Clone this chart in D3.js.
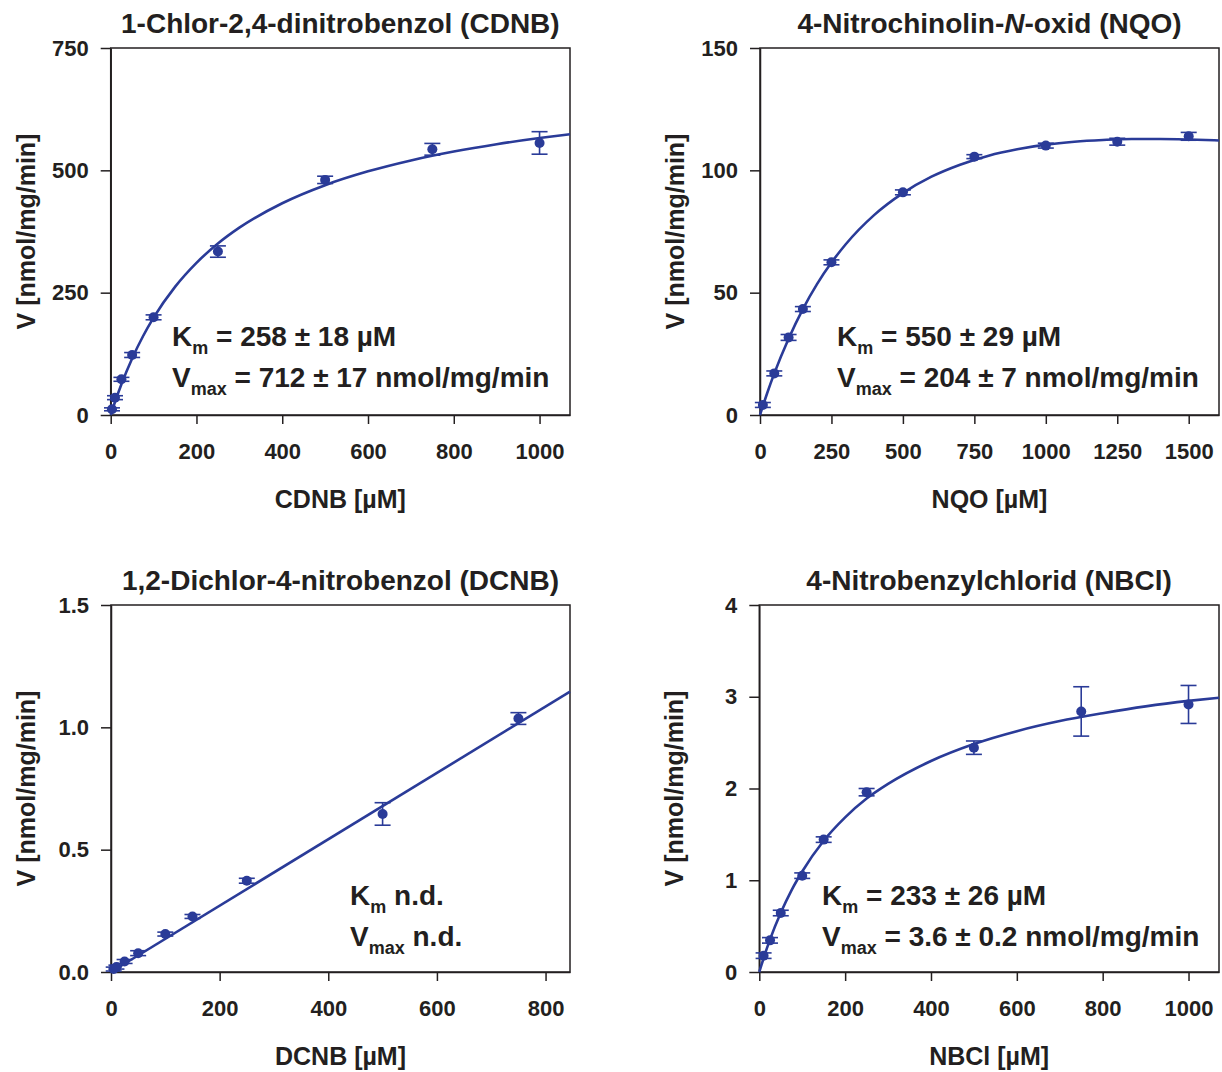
<!DOCTYPE html>
<html><head><meta charset="utf-8">
<script src="https://cdn.jsdelivr.net/npm/d3@7"></script>
<style>
html,body{margin:0;padding:0;background:#fff;}
text{font-family:"Liberation Sans",Arial,Helvetica,sans-serif;font-weight:bold;fill:#231f20;}
</style></head>
<body>
<svg id="chart" width="1222" height="1072"></svg>
<script>
// ---------- data ----------
const cdnbConc = [3, 10, 25, 50, 100, 250, 500, 750, 1000];
const cdnbRate = [11.6, 35.4, 72.9, 122.6, 199.6, 334, 480.5, 543, 556];
const cdnbErr  = [3, 4, 4, 5, 5, 11.6, 7.5, 12, 23];
const cdnbFitX = [0, 10, 25, 50, 75, 100, 150, 200, 250, 300, 400, 500, 600, 700, 800, 900, 1000, 1071];
const cdnbFitY = [0, 26.6, 62.9, 115.6, 160.4, 198.9, 261.8, 310.9, 350.4, 382.8, 432.8, 469.7, 497.9, 520.3, 538.4, 553.4, 566.0, 573.8];

const nqoConc = [10, 50, 100, 150, 250, 500, 750, 1000, 1250, 1500];
const nqoRate = [4.1, 17.0, 31.7, 43.3, 62.4, 91.0, 105.6, 110.1, 111.7, 113.9];
const nqoErr  = [1, 1, 1.2, 1, 1, 1, 0.8, 1, 1.4, 1.6];
const nqoFitX = [0, 25, 50, 100, 150, 200, 250, 300, 400, 500, 600, 700, 800, 900, 1000, 1100, 1200, 1300, 1400, 1500, 1606];
const nqoFitY = [0, 8.9, 17.0, 31.2, 43.3, 53.6, 62.3, 69.8, 81.8, 90.7, 97.4, 102.3, 106.0, 108.6, 110.5, 111.7, 112.4, 112.8, 112.8, 112.6, 112.2];

const dcnbConc = [5, 10, 25, 50, 100, 150, 250, 500, 750];
const dcnbRate = [0.012, 0.02, 0.043, 0.077, 0.155, 0.227, 0.373, 0.646, 1.036];
const dcnbErr  = [0.008, 0.008, 0.008, 0.01, 0.008, 0.008, 0.01, 0.046, 0.024];
const dcnbFitX = [0, 845];
const dcnbFitY = [0, 1.146];

const nbclConc = [10, 25, 50, 100, 150, 250, 500, 750, 1000];
const nbclRate = [0.178, 0.345, 0.643, 1.05, 1.443, 1.96, 2.445, 2.84, 2.916];
const nbclErr  = [0.03, 0.03, 0.03, 0.03, 0.03, 0.04, 0.073, 0.269, 0.207];
const nbclFitX = [0, 10, 25, 50, 75, 100, 150, 200, 250, 300, 400, 500, 600, 700, 800, 900, 1000, 1071];
const nbclFitY = [0, 0.15, 0.355, 0.645, 0.89, 1.095, 1.43, 1.685, 1.89, 2.05, 2.30, 2.485, 2.625, 2.735, 2.82, 2.895, 2.955, 2.99];

const cdnbXTicks = [0, 200, 400, 600, 800, 1000];
const cdnbYTicks = [0, 250, 500, 750];
const nqoXTicks = [0, 250, 500, 750, 1000, 1250, 1500];
const nqoYTicks = [0, 50, 100, 150];
const dcnbXTicks = [0, 200, 400, 600, 800];
const dcnbYTicks = [0, 0.5, 1.0, 1.5];
const dcnbYTickLabels = ["0.0", "0.5", "1.0", "1.5"];
const nbclXTicks = [0, 200, 400, 600, 800, 1000];
const nbclYTicks = [0, 1, 2, 3, 4];

const titles = [
  [["1-Chlor-2,4-dinitrobenzol (CDNB)", false]],
  [["4-Nitrochinolin-", false], ["N", true], ["-oxid (NQO)", false]],
  [["1,2-Dichlor-4-nitrobenzol (DCNB)", false]],
  [["4-Nitrobenzylchlorid (NBCl)", false]]
];
const xLabels = ["CDNB [µM]", "NQO [µM]", "DCNB [µM]", "NBCl [µM]"];
const yLabel = "V [nmol/mg/min]";
const kmTexts = ["= 258 ± 18 µM", "= 550 ± 29 µM", "n.d.", "= 233 ± 26 µM"];
const vmaxTexts = ["= 712 ± 17 nmol/mg/min", "= 204 ± 7 nmol/mg/min", "n.d.", "= 3.6 ± 0.2 nmol/mg/min"];

// ---------- layout ----------
const BLUE = "#2a3b98";
const INK = "#231f20";
const panels = [
  {left:110.7, right:570, top:48, bottom:415, xMax:1071, yMax:750, conc:cdnbConc, rate:cdnbRate, err:cdnbErr, fx:cdnbFitX, fy:cdnbFitY, xt:cdnbXTicks, yt:cdnbYTicks, ytl:null, annX:172, annY:346},
  {left:760, right:1219, top:48, bottom:415, xMax:1606, yMax:150, conc:nqoConc, rate:nqoRate, err:nqoErr, fx:nqoFitX, fy:nqoFitY, xt:nqoXTicks, yt:nqoYTicks, ytl:null, annX:837, annY:346},
  {left:111, right:570, top:605, bottom:972, xMax:845, yMax:1.5, conc:dcnbConc, rate:dcnbRate, err:dcnbErr, fx:dcnbFitX, fy:dcnbFitY, xt:dcnbXTicks, yt:dcnbYTicks, ytl:dcnbYTickLabels, annX:350, annY:905},
  {left:759.3, right:1219, top:605, bottom:972, xMax:1071, yMax:4, conc:nbclConc, rate:nbclRate, err:nbclErr, fx:nbclFitX, fy:nbclFitY, xt:nbclXTicks, yt:nbclYTicks, ytl:null, annX:822, annY:905}
];

const svg = d3.select("#chart");

panels.forEach((p, i) => {
  const x = d3.scaleLinear().domain([0, p.xMax]).range([p.left, p.right]);
  const y = d3.scaleLinear().domain([0, p.yMax]).range([p.bottom, p.top]);
  const g = svg.append("g");

  // frame
  g.append("rect").attr("x", p.left).attr("y", p.top)
    .attr("width", p.right - p.left).attr("height", p.bottom - p.top)
    .attr("fill", "none").attr("stroke", INK).attr("stroke-width", 1.5);

  // axes
  const xa = d3.axisBottom(x).tickValues(p.xt).tickSize(9).tickSizeOuter(0).tickPadding(19)
    .tickFormat(d3.format("d"));
  const gx = g.append("g").attr("transform", `translate(0,${p.bottom})`).call(xa);
  const ya = d3.axisLeft(y).tickValues(p.yt).tickSize(10).tickSizeOuter(0).tickPadding(12)
    .tickFormat((d, k) => p.ytl ? p.ytl[k] : d3.format("d")(d));
  const gy = g.append("g").attr("transform", `translate(${p.left},0)`).call(ya);
  [gx, gy].forEach(a => {
    a.select(".domain").attr("stroke", INK).attr("stroke-width", 1.5);
    a.selectAll(".tick line").attr("stroke", INK).attr("stroke-width", 1.5);
    a.selectAll(".tick text").attr("font-size", 22).attr("fill", INK)
      .style("font-family", '"Liberation Sans",Arial,sans-serif').style("font-weight", "bold");
  });

  // title
  const t = g.append("text").attr("x", (p.left + p.right) / 2).attr("y", p.top - 15)
    .attr("text-anchor", "middle").attr("font-size", 28);
  titles[i].forEach(([s, it]) => t.append("tspan").text(s).attr("font-style", it ? "italic" : "normal"));

  // axis labels
  g.append("text").attr("x", (p.left + p.right) / 2).attr("y", p.bottom + 93)
    .attr("text-anchor", "middle").attr("font-size", 25).text(xLabels[i]);
  g.append("text").attr("transform", `translate(${p.left - 76},${(p.top + p.bottom) / 2}) rotate(-90)`)
    .attr("text-anchor", "middle").attr("font-size", 25).text(yLabel);

  // fit curve
  const fit = p.fx.map((v, k) => [v, p.fy[k]]);
  g.append("path").datum(fit)
    .attr("d", d3.line().x(d => x(d[0])).y(d => y(d[1])).curve(d3.curveMonotoneX))
    .attr("fill", "none").attr("stroke", BLUE).attr("stroke-width", 2.6);

  // error bars + points
  const pts = p.conc.map((c, k) => ({c, v: p.rate[k], e: p.err[k]}));
  const eb = g.append("g").attr("stroke", BLUE).attr("stroke-width", 1.6);
  pts.forEach(d => {
    const cx = x(d.c), y1 = y(d.v + d.e), y2 = y(d.v - d.e);
    eb.append("line").attr("x1", cx).attr("x2", cx).attr("y1", y1).attr("y2", y2);
    eb.append("line").attr("x1", cx - 8).attr("x2", cx + 8).attr("y1", y1).attr("y2", y1);
    eb.append("line").attr("x1", cx - 8).attr("x2", cx + 8).attr("y1", y2).attr("y2", y2);
  });
  g.selectAll("circle.pt").data(pts).enter().append("circle").attr("class", "pt")
    .attr("cx", d => x(d.c)).attr("cy", d => y(d.v)).attr("r", 5).attr("fill", BLUE);

  // annotation
  const a1 = g.append("text").attr("x", p.annX).attr("y", p.annY).attr("font-size", 28);
  a1.append("tspan").text("K");
  a1.append("tspan").attr("font-size", 18).attr("dy", 8).text("m");
  a1.append("tspan").attr("dy", -8).text(" " + kmTexts[i]);
  const a2 = g.append("text").attr("x", p.annX).attr("y", p.annY + 41).attr("font-size", 28);
  a2.append("tspan").text("V");
  a2.append("tspan").attr("font-size", 18).attr("dy", 8).text("max");
  a2.append("tspan").attr("dy", -8).text(" " + vmaxTexts[i]);
});
</script>
</body></html>
